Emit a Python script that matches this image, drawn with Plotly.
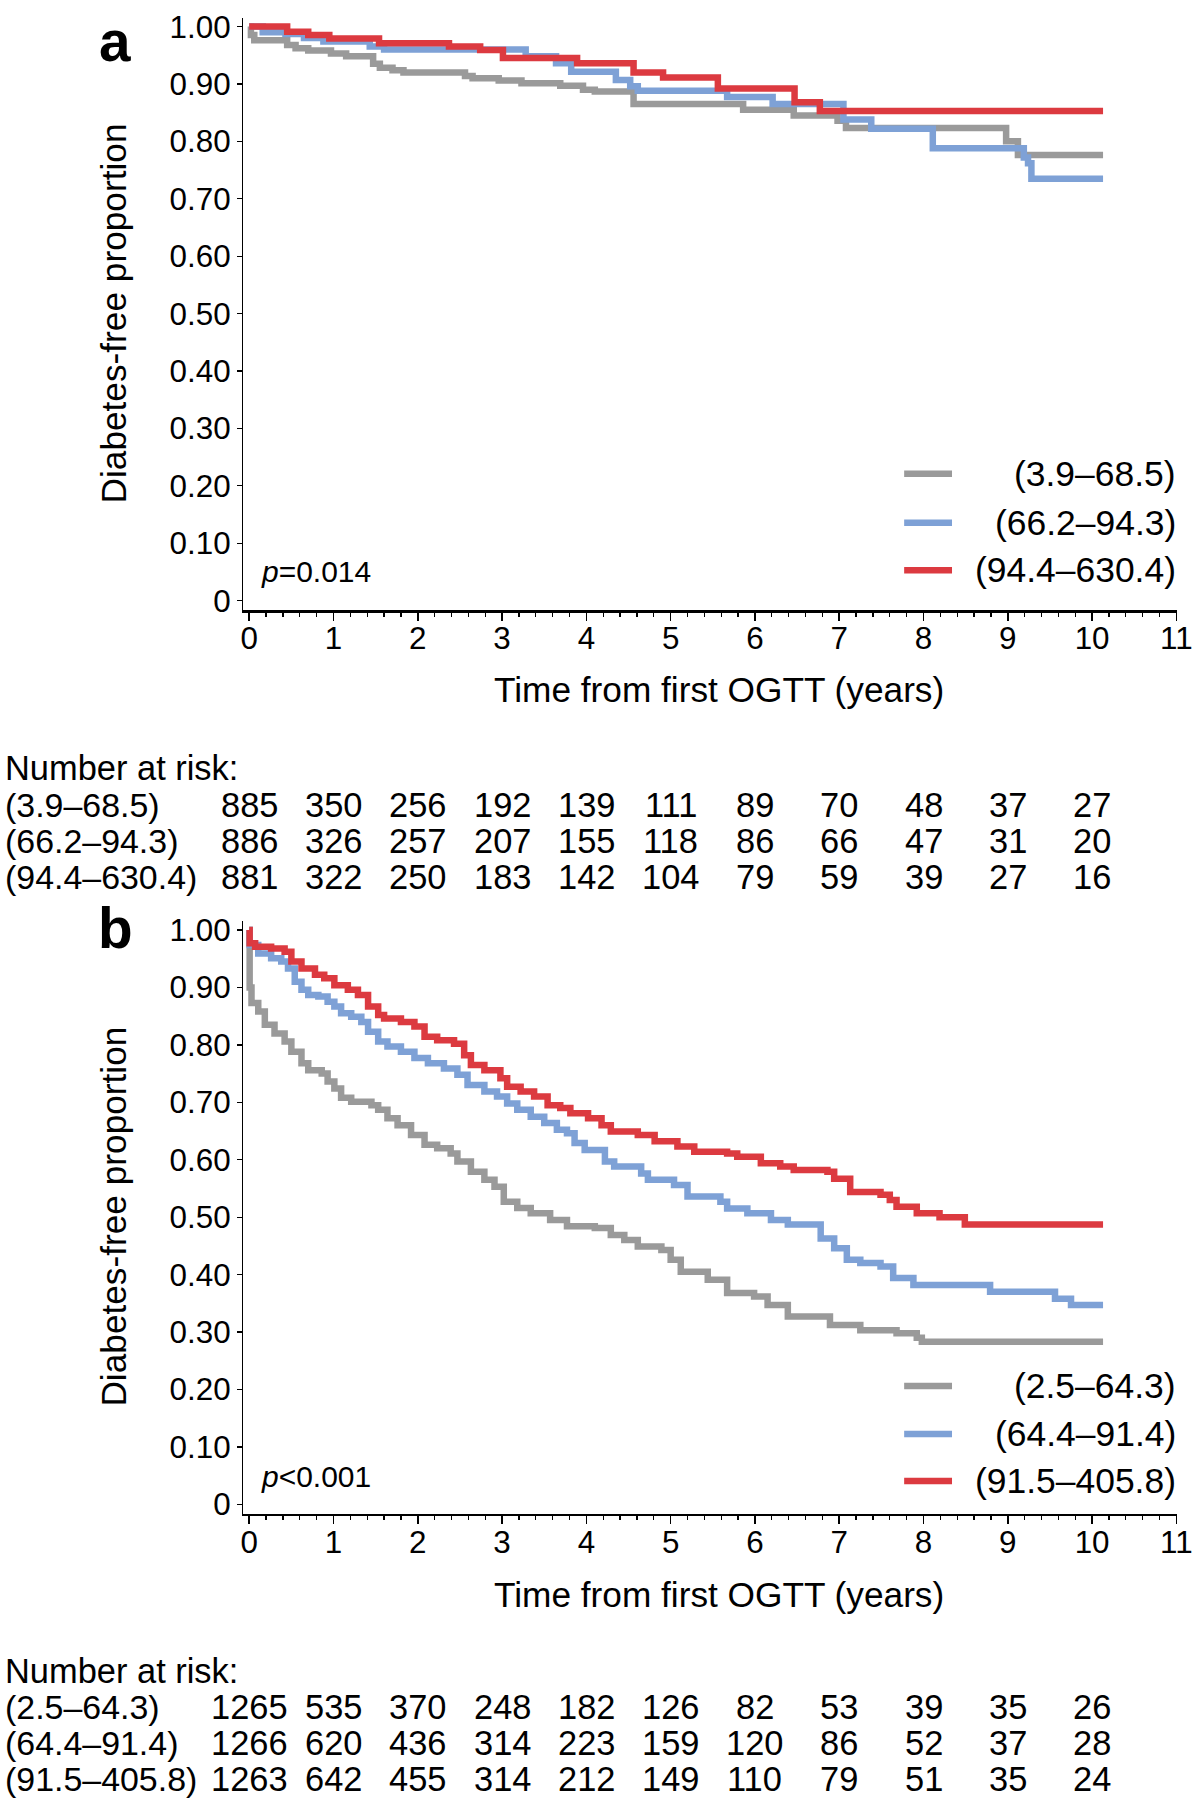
import plotly.graph_objects as go

FONT = "Liberation Sans, Arial, Helvetica, sans-serif"

# ---------------- data ----------------
# Panel a : Kaplan-Meier step points (time in years, diabetes-free proportion)
a_labels = ["(3.9–68.5)", "(66.2–94.3)", "(94.4–630.4)"]
a_gray_t = [0, 0.02, 0.06, 0.45, 0.55, 0.70, 0.97, 1.15, 1.47, 1.55, 1.70, 1.83, 2.56, 2.65, 2.96,
            3.23, 3.69, 3.96, 4.10, 4.56, 5.86, 6.46, 6.98, 7.08, 8.98, 9.12, 10.13]
a_gray_s = [1.000, 0.985, 0.976, 0.968, 0.962, 0.958, 0.953, 0.948, 0.935, 0.928, 0.924, 0.920, 0.914,
            0.910, 0.906, 0.901, 0.897, 0.890, 0.887, 0.865, 0.855, 0.845, 0.836, 0.823, 0.800, 0.776, 0.776]
a_blue_t = [0, 0.16, 0.43, 0.65, 0.88, 1.43, 1.60, 3.28, 3.64, 3.82, 4.35, 4.52, 4.61, 5.67, 6.21,
            7.05, 7.38, 8.11, 9.19, 9.24, 9.28, 10.13]
a_blue_s = [1.000, 0.990, 0.987, 0.980, 0.974, 0.965, 0.960, 0.948, 0.936, 0.921, 0.907, 0.896, 0.888,
            0.877, 0.865, 0.838, 0.822, 0.788, 0.772, 0.762, 0.735, 0.735]
a_red_t = [0, 0.45, 0.70, 0.95, 1.54, 2.37, 2.74, 3.01, 3.89, 4.56, 4.91, 5.56, 6.47, 6.77, 10.13]
a_red_s = [1.000, 0.991, 0.985, 0.979, 0.971, 0.965, 0.959, 0.945, 0.936, 0.920, 0.911, 0.892, 0.868,
           0.853, 0.853]
a_risk = [[885, 350, 256, 192, 139, 111, 89, 70, 48, 37, 27],
          [886, 326, 257, 207, 155, 118, 86, 66, 47, 31, 20],
          [881, 322, 250, 183, 142, 104, 79, 59, 39, 27, 16]]
a_p = "<i>p</i>=0.014"

# Panel b
b_labels = ["(2.5–64.3)", "(64.4–91.4)", "(91.5–405.8)"]
b_gray_t = [0, 0.005, 0.027, 0.107, 0.185, 0.30, 0.42, 0.50, 0.62, 0.70, 0.86, 0.93, 1.01, 1.09,
            1.21, 1.45, 1.53, 1.64, 1.76, 1.92, 2.08, 2.23, 2.39, 2.47, 2.63, 2.79, 2.91, 3.02, 3.18,
            3.34, 3.57, 3.77, 4.10, 4.29, 4.45, 4.61, 4.89, 5.00, 5.12, 5.44, 5.67, 5.99, 6.15, 6.39,
            6.89, 7.25, 7.68, 7.92, 7.98, 10.13]
b_gray_s = [1.000, 0.900, 0.873, 0.858, 0.835, 0.820, 0.806, 0.788, 0.768, 0.756, 0.750, 0.736, 0.724,
            0.708, 0.701, 0.695, 0.687, 0.672, 0.660, 0.643, 0.626, 0.620, 0.611, 0.597, 0.579, 0.565,
            0.553, 0.527, 0.516, 0.507, 0.495, 0.484, 0.481, 0.469, 0.460, 0.449, 0.443, 0.426, 0.405,
            0.391, 0.368, 0.362, 0.347, 0.327, 0.312, 0.303, 0.298, 0.290, 0.283, 0.283]
b_blue_t = [0, 0.005, 0.107, 0.26, 0.38, 0.46, 0.54, 0.62, 0.70, 0.82, 0.93, 1.01, 1.09, 1.21, 1.33,
            1.41, 1.53, 1.64, 1.80, 1.96, 2.12, 2.31, 2.47, 2.59, 2.79, 2.94, 3.06, 3.18, 3.34, 3.50,
            3.65, 3.77, 3.86, 3.98, 4.22, 4.33, 4.65, 4.73, 5.04, 5.20, 5.59, 5.67, 5.91, 6.19, 6.39,
            6.78, 6.94, 7.09, 7.25, 7.49, 7.64, 7.88, 8.79, 9.56, 9.75, 10.13]
b_blue_s = [1.000, 0.974, 0.959, 0.951, 0.945, 0.933, 0.910, 0.896, 0.887, 0.884, 0.875, 0.867, 0.855,
            0.849, 0.840, 0.823, 0.806, 0.797, 0.788, 0.777, 0.768, 0.759, 0.748, 0.730, 0.719, 0.710,
            0.698, 0.687, 0.675, 0.664, 0.652, 0.646, 0.629, 0.617, 0.597, 0.588, 0.576, 0.565, 0.556,
            0.536, 0.527, 0.515, 0.507, 0.495, 0.487, 0.463, 0.446, 0.426, 0.420, 0.414, 0.394, 0.382,
            0.370, 0.358, 0.347, 0.347]
b_red_t = [0, 0.005, 0.07, 0.26, 0.42, 0.50, 0.62, 0.78, 0.89, 1.01, 1.17, 1.29, 1.41, 1.53, 1.60,
           1.80, 1.96, 2.08, 2.23, 2.43, 2.55, 2.63, 2.79, 2.98, 3.06, 3.22, 3.38, 3.54, 3.69, 3.81,
           4.02, 4.18, 4.29, 4.61, 4.81, 5.08, 5.28, 5.67, 5.79, 6.07, 6.30, 6.46, 6.86, 6.94, 7.13,
           7.49, 7.60, 7.68, 7.92, 8.19, 8.49, 10.13]
b_red_s = [1.000, 0.977, 0.971, 0.968, 0.962, 0.945, 0.933, 0.922, 0.916, 0.904, 0.896, 0.887, 0.867,
           0.852, 0.846, 0.840, 0.832, 0.814, 0.808, 0.802, 0.782, 0.765, 0.756, 0.742, 0.727, 0.719,
           0.710, 0.695, 0.690, 0.681, 0.672, 0.660, 0.649, 0.643, 0.632, 0.623, 0.614, 0.611, 0.605,
           0.594, 0.588, 0.582, 0.579, 0.567, 0.544, 0.539, 0.530, 0.518, 0.507, 0.500, 0.487, 0.487]
b_risk = [[1265, 535, 370, 248, 182, 126, 82, 53, 39, 35, 26],
          [1266, 620, 436, 314, 223, 159, 120, 86, 52, 37, 28],
          [1263, 642, 455, 314, 212, 149, 110, 79, 51, 35, 24]]
b_p = "<i>p</i><0.001"

x_ticks = list(range(0, 12))
y_tickvals = [0, 0.1, 0.2, 0.3, 0.4, 0.5, 0.6, 0.7, 0.8, 0.9, 1.0]
y_ticktext = ["0", "0.10", "0.20", "0.30", "0.40", "0.50", "0.60", "0.70", "0.80", "0.90", "1.00"]
risk_times = list(range(0, 11))

colors = ["#9a9a9a", "#7ea1d6", "#dc3a40"]

for t, s in [(a_gray_t, a_gray_s), (a_blue_t, a_blue_s), (a_red_t, a_red_s),
             (b_gray_t, b_gray_s), (b_blue_t, b_blue_s), (b_red_t, b_red_s)]:
    assert len(t) == len(s), (len(t), len(s))

# ---------------- layout helpers ----------------
# Positions below are given in target-picture pixels; they are converted to the
# figure's own pixel frame (the page is photographed with a slight rescale).
SX, SY, OY = 0.9874, 0.9911, 8.2
WF, HF = 1210, 1818


def px(R):
    return (R / SX) / WF


def py(R):
    return 1 - ((R - OY) / SY) / HF


def fs(size):
    return size / SX


fig = go.Figure()

panels = [
    dict(xa="x", ya="y", series=[(a_gray_t, a_gray_s), (a_blue_t, a_blue_s), (a_red_t, a_red_s)],
         labels=a_labels, risk=a_risk, p=a_p, letter="a",
         dom=[py(610.5), py(18.1)], leg=[474, 523, 570.5], ptext=571.5,
         ytitle=314, xtitle=690, risk_y=[768, 805, 841.5, 877.5]),
    dict(xa="x2", ya="y2", series=[(b_gray_t, b_gray_s), (b_blue_t, b_blue_s), (b_red_t, b_red_s)],
         labels=b_labels, risk=b_risk, p=b_p, letter="b",
         dom=[py(1514.1), py(921.5)], leg=[1386, 1434, 1481], ptext=1477,
         ytitle=1217, xtitle=1595, risk_y=[1671, 1707.5, 1743, 1779.5]),
]

annotations = []
shapes = []
for P in panels:
    for (t, s), c, lab in zip(P["series"], colors, P["labels"]):
        fig.add_trace(go.Scatter(x=t, y=s, mode="lines", line=dict(color=c, width=6.5, shape="hv"),
                                 xaxis=P["xa"], yaxis=P["ya"], showlegend=False, name=lab))
    # legend (manual, right-aligned text)
    for c, lab, ly in zip(colors, P["labels"], P["leg"]):
        shapes.append(dict(type="line", xref="paper", yref="paper", x0=px(904), x1=px(952),
                           y0=py(ly), y1=py(ly), line=dict(color=c, width=6.5)))
        annotations.append(dict(text=lab, xref="paper", yref="paper", x=px(1179), y=py(ly),
                                xanchor="right", yanchor="middle", showarrow=False,
                                font=dict(size=fs(35), family=FONT, color="black")))
    # p value
    annotations.append(dict(text=P["p"], xref="paper", yref="paper", x=px(257), y=py(P["ptext"]),
                            xanchor="left", yanchor="middle", showarrow=False,
                            font=dict(size=fs(29.6), family=FONT, color="black")))
    # axis titles
    annotations.append(dict(text="Diabetes-free proportion", xref="paper", yref="paper",
                            x=px(111), y=py(P["ytitle"]), textangle=-90, xanchor="center",
                            yanchor="middle", showarrow=False,
                            font=dict(size=fs(34.8), family=FONT, color="black")))
    annotations.append(dict(text="Time from first OGTT (years)", xref="paper", yref="paper",
                            x=px(718), y=py(P["xtitle"]), xanchor="center", yanchor="middle",
                            showarrow=False, font=dict(size=fs(34.8), family=FONT, color="black")))
    # number at risk table
    annotations.append(dict(text="Number at risk:", xref="paper", yref="paper", x=0,
                            y=py(P["risk_y"][0]), xanchor="left", yanchor="middle", showarrow=False,
                            font=dict(size=fs(34), family=FONT, color="black")))
    for lab, row, ry in zip(P["labels"], P["risk"], P["risk_y"][1:]):
        annotations.append(dict(text=lab, xref="paper", yref="paper", x=0, y=py(ry),
                                xanchor="left", yanchor="middle", showarrow=False,
                                font=dict(size=fs(33.5), family=FONT, color="black")))
        for tt, v in zip(risk_times, row):
            annotations.append(dict(text=str(v), xref=P["xa"], yref="paper", x=tt, y=py(ry),
                                    xanchor="center", yanchor="middle", showarrow=False,
                                    font=dict(size=fs(34), family=FONT, color="black")))

# panel letters
annotations.append(dict(text="<b>a</b>", xref="paper", yref="paper", x=px(112), y=1,
                        xanchor="center", yanchor="top", showarrow=False,
                        font=dict(size=fs(56), family=FONT, color="black")))
annotations.append(dict(text="<b>b</b>", xref="paper", yref="paper", x=px(113), y=py(929),
                        xanchor="center", yanchor="middle", showarrow=False,
                        font=dict(size=fs(56), family=FONT, color="black")))

xaxis_common = dict(range=[-0.071, 11.005], tickvals=x_ticks, ticks="outside", ticklen=8,
                    tickwidth=1.5, tickcolor="black", showline=True, linecolor="black", linewidth=2.2,
                    showgrid=False, zeroline=False, domain=[px(241), px(1177.5)],
                    ticklabelstandoff=-9,
                    tickfont=dict(size=fs(31), family=FONT, color="black"),
                    minor=dict(dtick=0.2, ticks="outside", ticklen=4, tickwidth=1.3, tickcolor="black"))
yaxis_common = dict(range=[-0.017, 1.015], tickvals=y_tickvals, ticktext=y_ticktext, ticks="outside",
                    ticklen=5, tickwidth=1.3, tickcolor="black", showline=True, linecolor="black",
                    linewidth=1.3, showgrid=False, zeroline=False,
                    tickfont=dict(size=fs(31), family=FONT, color="black"))

fig.update_layout(
    width=WF, height=HF, margin=dict(l=0, r=0, t=0, b=0),
    paper_bgcolor="white", plot_bgcolor="white", showlegend=False,
    xaxis=dict(**xaxis_common, anchor="y"),
    yaxis=dict(**yaxis_common, domain=panels[0]["dom"], anchor="x"),
    xaxis2=dict(**xaxis_common, anchor="y2"),
    yaxis2=dict(**yaxis_common, domain=panels[1]["dom"], anchor="x2"),
    annotations=annotations, shapes=shapes,
)

fig.write_html(
    "out.html",
    config={"displayModeBar": False, "staticPlot": True},
    post_script=("document.body.style.margin='0px';"
                 "document.documentElement.style.overflow='hidden';"
                 "document.body.style.overflow='hidden';"),
)
